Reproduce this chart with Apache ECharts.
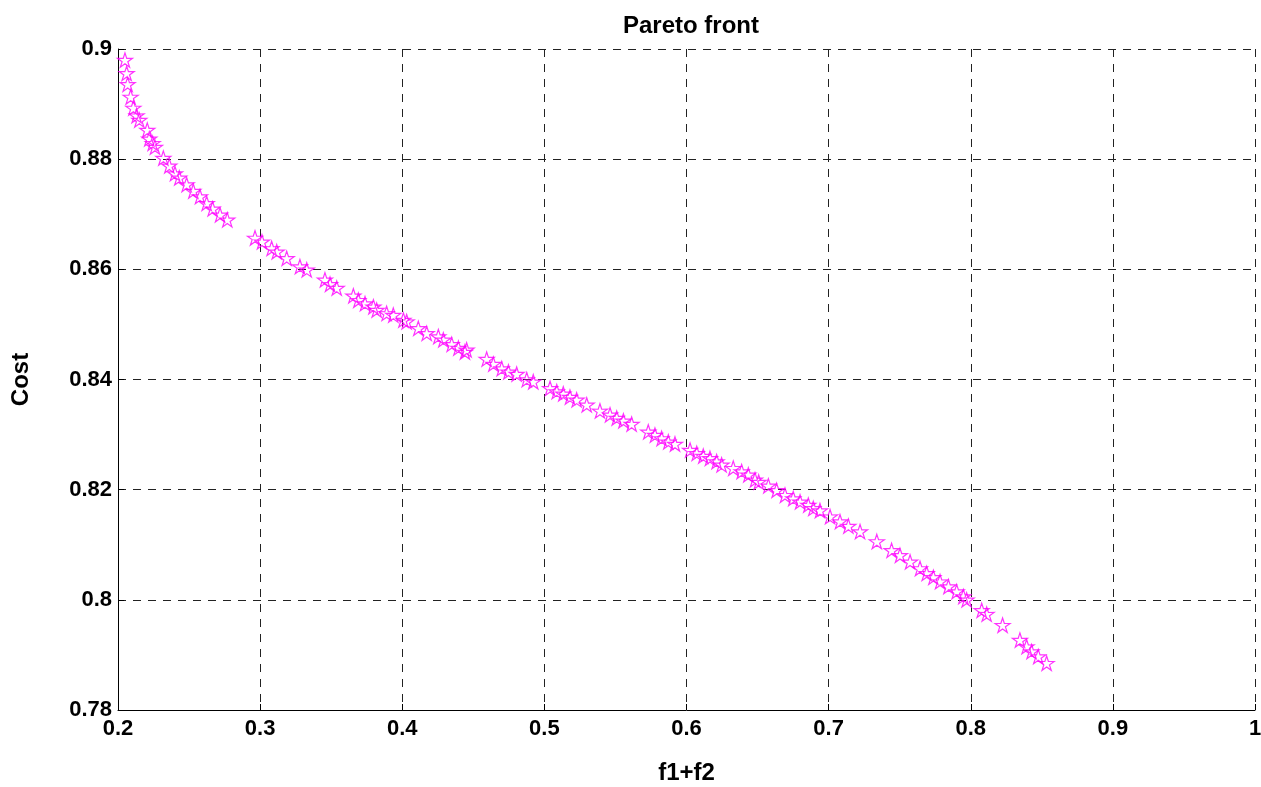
<!DOCTYPE html>
<html>
<head>
<meta charset="utf-8">
<title>Pareto front</title>
<script src="https://cdn.jsdelivr.net/npm/echarts@6/dist/echarts.min.js"></script>
<style>
  html, body { margin: 0; padding: 0; background: #fff; }
  #chart { width: 1261px; height: 787px; }
</style>
</head>
<body>
<div id="chart"></div>
<script>
// f1+f2 values
var f1f2 = [
  0.2049, 0.2061, 0.2068, 0.2089, 0.2108, 0.2131, 0.2150, 0.2206, 0.2220, 0.2244,
  0.2260, 0.2319, 0.2361, 0.2401, 0.2431, 0.2483, 0.2530, 0.2577, 0.2624, 0.2666,
  0.2718, 0.2769,
  0.2964, 0.3013, 0.3081, 0.3117, 0.3187, 0.3280, 0.3328, 0.3456, 0.3492, 0.3539,
  0.3656, 0.3691, 0.3738, 0.3797, 0.3820, 0.3890, 0.3937, 0.4008, 0.4031, 0.4113,
  0.4172, 0.4254, 0.4289, 0.4348, 0.4395, 0.4441, 0.4453,
  0.4594, 0.4641, 0.4700, 0.4747, 0.4805, 0.4876, 0.4922, 0.5040, 0.5087, 0.5133,
  0.5180, 0.5227, 0.5298, 0.5391, 0.5462, 0.5509, 0.5556, 0.5614, 0.5731, 0.5778,
  0.5825, 0.5872, 0.5919, 0.6025, 0.6072, 0.6118, 0.6165, 0.6212, 0.6247, 0.6329,
  0.6388, 0.6435, 0.6482, 0.6508, 0.6576, 0.6634, 0.6693, 0.6751, 0.6799, 0.6857,
  0.6892, 0.6939, 0.7010, 0.7080, 0.7139, 0.7221,
  0.7339, 0.7443, 0.7502, 0.7573, 0.7643, 0.7690, 0.7737, 0.7784, 0.7843, 0.7901,
  0.7948, 0.7971, 0.8077, 0.8112, 0.8224, 0.8346, 0.8393, 0.8428, 0.8475, 0.8534
];
// Cost values, same order
var cost = [
  0.8980, 0.8956, 0.8936, 0.8913, 0.8893, 0.8879, 0.8871, 0.8853, 0.8837, 0.8829,
  0.8822, 0.8802, 0.8788, 0.8774, 0.8766, 0.8754, 0.8742, 0.8732, 0.8720, 0.8710,
  0.8699, 0.8690,
  0.8657, 0.8650, 0.8638, 0.8632, 0.8620, 0.8605, 0.8599, 0.8581, 0.8573, 0.8566,
  0.8552, 0.8544, 0.8538, 0.8532, 0.8526, 0.8520, 0.8517, 0.8508, 0.8505, 0.8493,
  0.8484, 0.8478, 0.8472, 0.8464, 0.8457, 0.8450, 0.8454,
  0.8437, 0.8428, 0.8420, 0.8414, 0.8410, 0.8400, 0.8396, 0.8384, 0.8378, 0.8374,
  0.8368, 0.8363, 0.8354, 0.8343, 0.8336, 0.8330, 0.8325, 0.8319, 0.8305, 0.8299,
  0.8293, 0.8287, 0.8283, 0.8272, 0.8266, 0.8261, 0.8257, 0.8251, 0.8245, 0.8239,
  0.8233, 0.8227, 0.8218, 0.8214, 0.8207, 0.8199, 0.8190, 0.8184, 0.8178, 0.8172,
  0.8166, 0.8162, 0.8151, 0.8142, 0.8134, 0.8124,
  0.8106, 0.8090, 0.8081, 0.8069, 0.8057, 0.8048, 0.8041, 0.8033, 0.8024, 0.8015,
  0.8006, 0.8000, 0.7981, 0.7974, 0.7954, 0.7927, 0.7915, 0.7906, 0.7897, 0.7885
];
var xTicks = { min: 0.2, max: 1, step: 0.1 };
var yTicks = { min: 0.78, max: 0.9, step: 0.02 };

// hollow five-pointed star (matlab 'p' marker)
function starPath() {
  var pts = [];
  for (var i = 0; i < 10; i++) {
    var r = i % 2 === 0 ? 50 : 19;
    var a = (-90 + i * 36) * Math.PI / 180;
    pts.push((50 + r * Math.cos(a)).toFixed(2) + ' ' + (50 + r * Math.sin(a)).toFixed(2));
  }
  return 'path://M' + pts.join(' L') + ' Z';
}

var points = f1f2.map(function (x, i) { return [x, cost[i]]; });

var font = 'Liberation Sans, Arial, Helvetica, sans-serif';
var gridLine = { show: true, lineStyle: { color: '#222', type: [8, 7], width: 1 } };
var nameStyle = { fontFamily: font, fontWeight: 'bold', fontSize: 24, color: '#000' };

var chart = echarts.init(document.getElementById('chart'), null, { renderer: 'canvas' });
chart.setOption({
  backgroundColor: '#fff',
  animation: false,
  title: {
    text: 'Pareto front',
    left: 686,
    textAlign: 'center',
    top: 9,
    textStyle: nameStyle
  },
  grid: { left: 118, right: 6, top: 49, bottom: 77, containLabel: false, outerBoundsMode: 'none' },
  xAxis: {
    type: 'value',
    min: xTicks.min, max: xTicks.max, interval: xTicks.step,
    name: 'f1+f2',
    nameLocation: 'middle',
    nameGap: 51,
    nameTextStyle: nameStyle,
    axisLine: { show: true, onZero: false, lineStyle: { color: '#000', width: 1 } },
    axisTick: { show: true, inside: true, length: 6, lineStyle: { color: '#000' } },
    axisLabel: {
      fontFamily: font, fontWeight: 'bold', fontSize: 22, color: '#000', margin: 8,
      formatter: function (v) { return +v.toFixed(2) + ''; }
    },
    splitLine: gridLine
  },
  yAxis: {
    type: 'value',
    min: yTicks.min, max: yTicks.max, interval: yTicks.step,
    name: 'Cost',
    nameLocation: 'middle',
    nameRotate: 90,
    nameGap: 85,
    nameTextStyle: nameStyle,
    axisLine: { show: true, onZero: false, lineStyle: { color: '#000', width: 1 } },
    axisTick: { show: true, inside: true, length: 6, lineStyle: { color: '#000' } },
    axisLabel: {
      fontFamily: font, fontWeight: 'bold', fontSize: 22, color: '#000', margin: 6,
      formatter: function (v) { return +v.toFixed(2) + ''; }
    },
    splitLine: gridLine
  },
  series: [{
    type: 'scatter',
    data: points,
    symbol: starPath(),
    symbolSize: 15,
    symbolKeepAspect: true,
    itemStyle: { color: 'rgba(0,0,0,0)', borderColor: '#ff00ff', borderWidth: 1.2 }
  }]
});
</script>
</body>
</html>
